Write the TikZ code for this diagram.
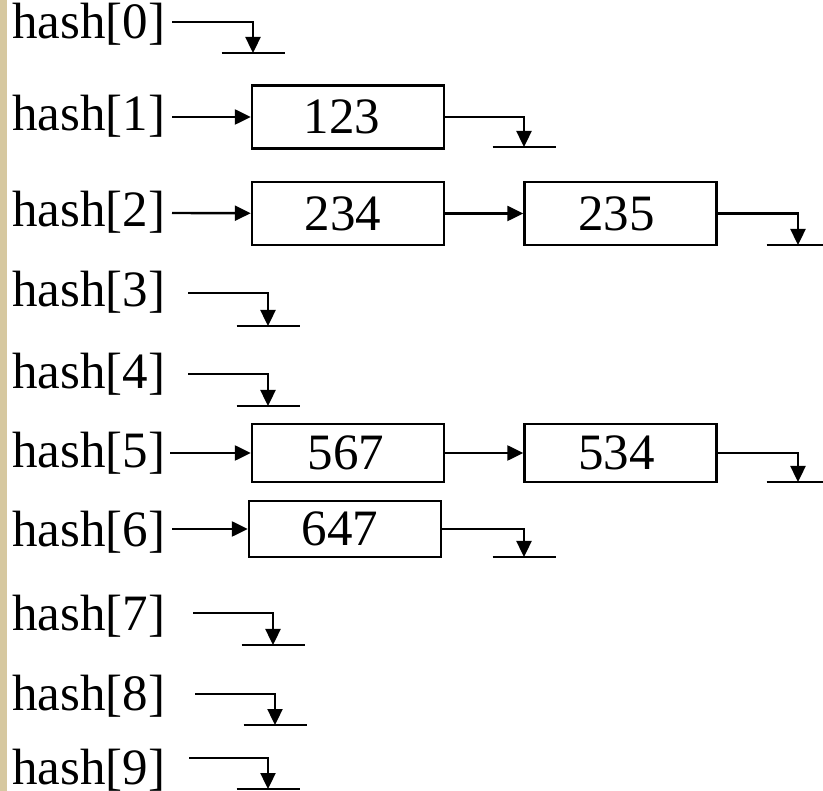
\documentclass[tikz,border=0pt]{standalone}
\usepackage{fontspec}
\setmainfont{Liberation Serif}
\usetikzlibrary{arrows.meta}
\definecolor{tanstrip}{RGB}{214,200,160}
\begin{document}
\begin{tikzpicture}[x=1pt,y=-1pt,
  lbl/.style={anchor=base west,inner sep=0pt,font=\fontsize{51}{51}\selectfont},
  cell/.style={draw,line width=2.4pt,minimum width=192pt,minimum height=63pt,inner sep=0pt,font=\fontsize{51}{51}\selectfont},
  arr/.style={line width=2.4pt,-{Triangle[length=16pt,width=15pt]}},
  gnd/.style={line width=2.4pt}]
\useasboundingbox (0,0) rectangle (823,791);
\fill[white] (0,0) rectangle (823,791);
\fill[tanstrip] (0,0) rectangle (7,791);
% labels
\node[lbl] (h0) at (12,39) {hash[0]};
\node[lbl] (h1) at (12,131) {hash[1]};
\node[lbl] (h2) at (12,227) {hash[2]};
\node[lbl] (h3) at (12,307) {hash[3]};
\node[lbl] (h4) at (12,389) {hash[4]};
\node[lbl] (h5) at (12,468) {hash[5]};
\node[lbl] (h6) at (12,547) {hash[6]};
\node[lbl] (h7) at (12,631) {hash[7]};
\node[lbl] (h8) at (12,710) {hash[8]};
\node[lbl] (h9) at (12,784) {hash[9]};
% start points of pointers
\coordinate (s0) at (172,22);
\coordinate (s1) at (172,117);
\coordinate (s2) at (172,213);
\coordinate (s3) at (188,293);
\coordinate (s4) at (188,374);
\coordinate (s5) at (170,453);
\coordinate (s6) at (172,529);
\coordinate (s7) at (193,613);
\coordinate (s8) at (195,694);
\coordinate (s9) at (189,758);
% boxes
\node[cell] (b1) at (348,117) {\hspace*{-12pt}123};
\node[cell] (b2a) at (348,213.5) {\hspace*{-10pt}234};
\node[cell] (b2b) at (620.5,213.5) {\hspace*{-8pt}235};
\node[cell,minimum height=58pt] (b5a) at (348,453) {\hspace*{-4pt}567};
\node[cell,minimum height=58pt] (b5b) at (620.5,453) {\hspace*{-8pt}534};
\node[cell,minimum height=56pt] (b6) at (345,529) {\hspace*{-10pt}647};
% null ends
\coordinate (g0) at (253,53);
\coordinate (g1) at (524,147);
\coordinate (g2) at (798,245);
\coordinate (g3) at (268,326);
\coordinate (g4) at (268,406);
\coordinate (g5) at (798,482);
\coordinate (g6) at (524,557);
\coordinate (g7) at (273,645);
\coordinate (g8) at (275,725);
\coordinate (g9) at (268,789);
% pointers
\draw[arr] (s0) -| (g0);
\draw[arr] (s1) -- (b1);
\draw[arr] (b1) -| (g1);
\draw[arr] (s2) -- (b2a);
\draw[arr] (b2a) -- (b2b);
\draw[arr] (b2b) -| (g2);
\draw[arr] (s3) -| (g3);
\draw[arr] (s4) -| (g4);
\draw[arr] (s5) -- (b5a);
\draw[arr] (b5a) -- (b5b);
\draw[arr] (b5b) -| (g5);
\draw[arr] (s6) -- (b6);
\draw[arr] (b6) -| (g6);
\draw[arr] (s7) -| (g7);
\draw[arr] (s8) -| (g8);
\draw[arr] (s9) -| (g9);
% ground bars
\foreach \g in {g0,g1,g2,g3,g4,g5,g6,g7,g8,g9}
  \draw[gnd] ([xshift=-31.5pt]\g) -- ([xshift=31.5pt]\g);
\end{tikzpicture}
\end{document}
